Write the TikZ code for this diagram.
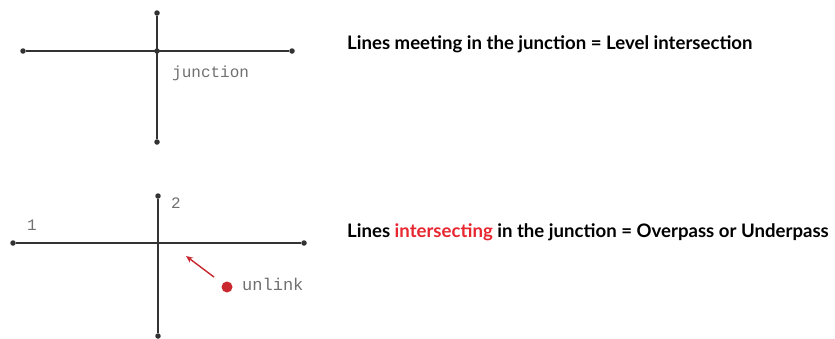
\documentclass[tikz,border=0pt]{standalone}
\usepackage{fontspec}
\setmainfont{Lato}
\setmonofont{Liberation Mono}
\usetikzlibrary{arrows.meta}
\definecolor{linegray}{HTML}{333333}
\definecolor{labelgray}{HTML}{707070}
\definecolor{hlred}{HTML}{E8262F}
\definecolor{dotred}{HTML}{C8282E}
\tikzset{
  track/.style={line width=2pt, draw=linegray},
  endpt/.style={circle, fill=linegray, inner sep=0pt, minimum size=5.5pt},
  nolabel/.style={font=\ttfamily\fontsize{16}{18}\selectfont, text=labelgray, inner sep=0pt, anchor=base west},
  caption/.style={font=\bfseries\fontsize{18.6}{22}\selectfont, inner sep=0pt, anchor=west},
}
\begin{document}
\begin{tikzpicture}[x=1pt,y=-1pt]
\useasboundingbox (0,0) rectangle (835,338);
% level crossing: both lines share the junction point
\node[endpt] (aL) at (23,51) {};
\node[endpt] (aR) at (292,51) {};
\node[endpt] (aT) at (157,13) {};
\node[endpt] (aB) at (157,142) {};
\node[endpt] (aJ) at (157,51) {};
\draw[track] (aL) -- (aR);
\draw[track] (aT) -- (aB);
\node[nolabel] (jlab) at (172,77) {junction};
\node[caption] (cap1) at (347,44) {Lines meeting in the junction = Level intersection};

% grade-separated crossing: no shared point
\node[endpt] (bL) at (13,243) {};
\node[endpt] (bR) at (304,243) {};
\node[endpt] (bT) at (158,196) {};
\node[endpt] (bB) at (158,336) {};
\draw[track] (bL) -- (bR);
\draw[track] (bT) -- (bB);
\node[nolabel] (n1) at (27,230) {1};
\node[nolabel] (n2) at (171,208) {2};
\node[circle, fill=dotred, inner sep=0pt, minimum size=11pt] (ud) at (227,287) {};
\node[nolabel, font=\ttfamily\fontsize{17}{19}\selectfont] (ulab) at (242,290) {unlink};
\coordinate (tip) at (186,256);
\draw[line width=1.4pt, draw=dotred, -{Stealth[length=7pt,width=6pt]}] (214,277) -- (tip);
\node[caption] (cap2) at (347,232) {Lines \textcolor{hlred}{intersecting} in the junction = Overpass or Underpass};
\end{tikzpicture}
\end{document}
